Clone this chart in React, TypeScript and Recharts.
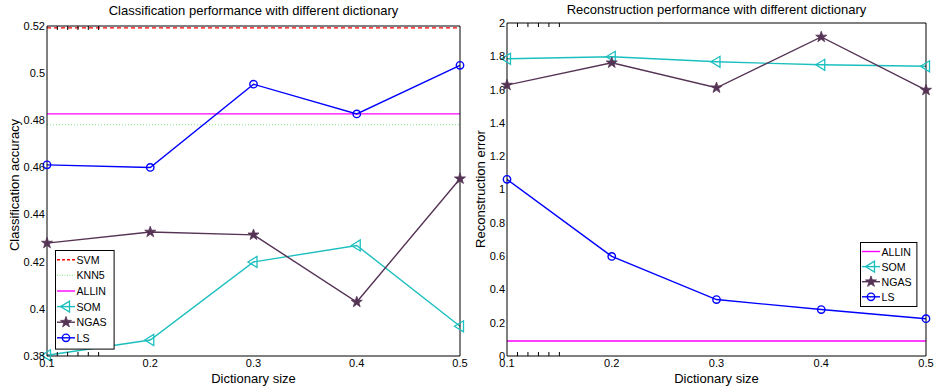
import React from 'react';
import { LineChart, Line, XAxis, YAxis, ReferenceLine, Legend } from 'recharts';

const dictSizes = [0.1, 0.2, 0.3, 0.4, 0.5];

// classification accuracy
const clsSom = [0.3803, 0.3868, 0.4199, 0.4269, 0.3926];
const clsNgas = [0.4279, 0.4326, 0.4314, 0.4029, 0.4552];
const clsLs = [0.4611, 0.46, 0.4953, 0.4827, 0.5033];
const clsSvm = 0.5192;
const clsKnn5 = 0.4782;
const clsAllin = 0.4827;

// reconstruction error
const recSom = [1.785, 1.797, 1.767, 1.749, 1.74];
const recNgas = [1.627, 1.761, 1.611, 1.916, 1.597];
const recLs = [1.061, 0.598, 0.339, 0.279, 0.224];
const recAllin = 0.09;

const xTicks = [0.1, 0.2, 0.3, 0.4, 0.5];
const clsYTicks = [0.38, 0.4, 0.42, 0.44, 0.46, 0.48, 0.5, 0.52];
const recYTicks = [0, 0.2, 0.4, 0.6, 0.8, 1, 1.2, 1.4, 1.6, 1.8, 2];

const FONT = '"Liberation Sans", Arial, Helvetica, sans-serif';
const C = {
  svm: '#ff0000',
  knn5: '#99ee99',
  allin: '#ff00ff',
  som: '#1cbfbf',
  ngas: '#553355',
  ls: '#0000ff',
};

const clsData = dictSizes.map((s, i) => ({ size: s, som: clsSom[i], ngas: clsNgas[i], ls: clsLs[i] }));
const recData = dictSizes.map((s, i) => ({ size: s, som: recSom[i], ngas: recNgas[i], ls: recLs[i] }));

const fmt = (v: number) => String(v);
const blank = () => <g />;

function starPath(cx: number, cy: number, R: number, r: number) {
  let d = '';
  for (let k = 0; k < 10; k++) {
    const rad = k % 2 === 0 ? R : r;
    const a = -Math.PI / 2 + (k * Math.PI) / 5;
    d += (k === 0 ? 'M' : 'L') + (cx + rad * Math.cos(a)).toFixed(2) + ',' + (cy + rad * Math.sin(a)).toFixed(2);
  }
  return d + 'Z';
}

type Mark = 'tri' | 'star' | 'circle' | 'none';

function marker(kind: Mark, color: string, cx: number, cy: number, key?: string) {
  if (kind === 'circle')
    return <circle key={key} cx={cx} cy={cy} r={3.7} fill="none" stroke={color} strokeWidth={1.4} />;
  if (kind === 'tri')
    return (
      <path key={key} d={`M${cx - 5.5},${cy}L${cx + 3.5},${cy - 5.5}L${cx + 3.5},${cy + 5.5}Z`}
        fill="none" stroke={color} strokeWidth={1.3} />
    );
  if (kind === 'star')
    return <path key={key} d={starPath(cx, cy, 5.8, 2.3)} fill={color} stroke={color} strokeWidth={0.8} />;
  return null;
}

const dot = (kind: Mark, color: string) => (p: any) =>
  marker(kind, color, p.cx, p.cy, `${kind}-${p.index}`) || <g key={`n-${p.index}`} />;

type Entry = { name: string; color: string; dash?: string; width: number; mark: Mark };

function legendBox(entries: Entry[], w: number, h: number, row0: number, step: number) {
  return () => (
    <svg width={w + 2} height={h + 2} style={{ display: 'block' }}>
      <rect x={0.5} y={0.5} width={w} height={h} fill="#fff" stroke="#000" strokeWidth={1} />
      {entries.map((e, i) => {
        const cy = row0 + i * step;
        return (
          <g key={e.name}>
            <line x1={2} x2={20} y1={cy} y2={cy} stroke={e.color} strokeWidth={e.width} strokeDasharray={e.dash} />
            {marker(e.mark, e.color, 11, cy)}
            <text x={21.5} y={cy + 4} fontSize={10.6} fontFamily={FONT} fill="#000">{e.name}</text>
          </g>
        );
      })}
    </svg>
  );
}

function frameAxes(xDomain: number[], yDomain: number[], yTicks: number[], yWidth: number) {
  const ax = { stroke: '#000', strokeWidth: 1 };
  return [
    <XAxis key="xm" xAxisId="main" dataKey="size" type="number" domain={xDomain} ticks={xTicks}
      tickFormatter={fmt} tickLine={false} tickSize={0} tickMargin={3} axisLine={ax} height={36}
      tick={{ fill: '#000', fontSize: 11, fontFamily: FONT }} interval={0} />,
    <XAxis key="xb" xAxisId="bt" type="number" domain={xDomain} ticks={xTicks} mirror orientation="bottom"
      tick={blank} tickSize={4} tickLine={ax} axisLine={false} interval={0} />,
    <XAxis key="xt" xAxisId="tp" type="number" domain={xDomain} ticks={xTicks} mirror orientation="top"
      tick={blank} tickSize={4} tickLine={ax} axisLine={ax} interval={0} />,
    <YAxis key="ym" yAxisId="main" type="number" domain={yDomain} ticks={yTicks} tickFormatter={fmt}
      tickLine={false} tickSize={0} tickMargin={2} axisLine={ax} width={yWidth} interval={0}
      tick={{ fill: '#000', fontSize: 11, fontFamily: FONT }} />,
    <YAxis key="yl" yAxisId="lt" type="number" domain={yDomain} ticks={yTicks} mirror orientation="left"
      tick={blank} tickSize={4} tickLine={ax} axisLine={false} interval={0} />,
    <YAxis key="yr" yAxisId="rt" type="number" domain={yDomain} ticks={yTicks} mirror orientation="right"
      tick={blank} tickSize={4} tickLine={ax} axisLine={ax} interval={0} />,
  ];
}

const clsEntries: Entry[] = [
  { name: 'SVM', color: C.svm, dash: '3 2', width: 1.4, mark: 'none' },
  { name: 'KNN5', color: C.knn5, dash: '1 1.5', width: 1.2, mark: 'none' },
  { name: 'ALLIN', color: C.allin, width: 1.4, mark: 'none' },
  { name: 'SOM', color: C.som, width: 1.4, mark: 'tri' },
  { name: 'NGAS', color: C.ngas, width: 1.4, mark: 'star' },
  { name: 'LS', color: C.ls, width: 1.4, mark: 'circle' },
];
const recEntries: Entry[] = clsEntries.slice(2);

function seriesLines() {
  return [
    <Line key="som" xAxisId="main" yAxisId="main" dataKey="som" stroke={C.som} strokeWidth={1.4}
      dot={dot('tri', C.som)} activeDot={false} isAnimationActive={false} />,
    <Line key="ngas" xAxisId="main" yAxisId="main" dataKey="ngas" stroke={C.ngas} strokeWidth={1.4}
      dot={dot('star', C.ngas)} activeDot={false} isAnimationActive={false} />,
    <Line key="ls" xAxisId="main" yAxisId="main" dataKey="ls" stroke={C.ls} strokeWidth={1.4}
      dot={dot('circle', C.ls)} activeDot={false} isAnimationActive={false} />,
  ];
}

export default function App() {
  return (
    <div style={{ position: 'absolute', left: 0, top: 0, width: 936, height: 392, background: '#fff', fontFamily: FONT }}>
      <div style={{ position: 'absolute', left: 0, top: 0 }}>
        <LineChart width={470} height={392} data={clsData} margin={{ top: 26, right: 10, bottom: 0, left: 0 }}>
          {frameAxes([0.1, 0.5], [0.38, 0.52], clsYTicks, 47)}
          <ReferenceLine xAxisId="main" yAxisId="main" y={clsSvm} stroke={C.svm} strokeWidth={1.4} strokeDasharray="4 3" />
          <ReferenceLine xAxisId="main" yAxisId="main" y={clsKnn5} stroke={C.knn5} strokeWidth={1.2} strokeDasharray="1 2" />
          <ReferenceLine xAxisId="main" yAxisId="main" y={clsAllin} stroke={C.allin} strokeWidth={1.4} />
          {seriesLines()}
          <Legend layout="horizontal" verticalAlign="middle" align="center"
            wrapperStyle={{ position: 'absolute', left: 55, top: 250, width: 62, height: 102 }}
            content={legendBox(clsEntries, 58.6, 98.6, 9.8, 15.6)} />
          <text x={253.5} y={15} textAnchor="middle" fontSize={13} fontFamily={FONT} fill="#000">
            Classification performance with different dictionary
          </text>
          <text x={253.5} y={383} textAnchor="middle" fontSize={13} fontFamily={FONT} fill="#000">Dictionary size</text>
          <text x={19} y={185} transform="rotate(-90 19 185)" textAnchor="middle" fontSize={13} fontFamily={FONT} fill="#000">
            Classification accuracy
          </text>
        </LineChart>
      </div>
      <div style={{ position: 'absolute', left: 466, top: 0 }}>
        <LineChart width={470} height={392} data={recData} margin={{ top: 23, right: 10, bottom: 0, left: 0 }}>
          {frameAxes([0.1, 0.5], [0, 2], recYTicks, 41)}
          <ReferenceLine xAxisId="main" yAxisId="main" y={recAllin} stroke={C.allin} strokeWidth={1.4} />
          {seriesLines()}
          <Legend layout="horizontal" verticalAlign="middle" align="center"
            wrapperStyle={{ position: 'absolute', left: 394, top: 242, width: 60, height: 68 }}
            content={legendBox(recEntries, 56.4, 64, 9.5, 15.1)} />
          <text x={250.5} y={14} textAnchor="middle" fontSize={13} fontFamily={FONT} fill="#000">
            Reconstruction performance with different dictionary
          </text>
          <text x={250.5} y={383} textAnchor="middle" fontSize={13} fontFamily={FONT} fill="#000">Dictionary size</text>
          <text x={19} y={189} transform="rotate(-90 19 189)" textAnchor="middle" fontSize={13} fontFamily={FONT} fill="#000">
            Reconstruction error
          </text>
        </LineChart>
      </div>
    </div>
  );
}
